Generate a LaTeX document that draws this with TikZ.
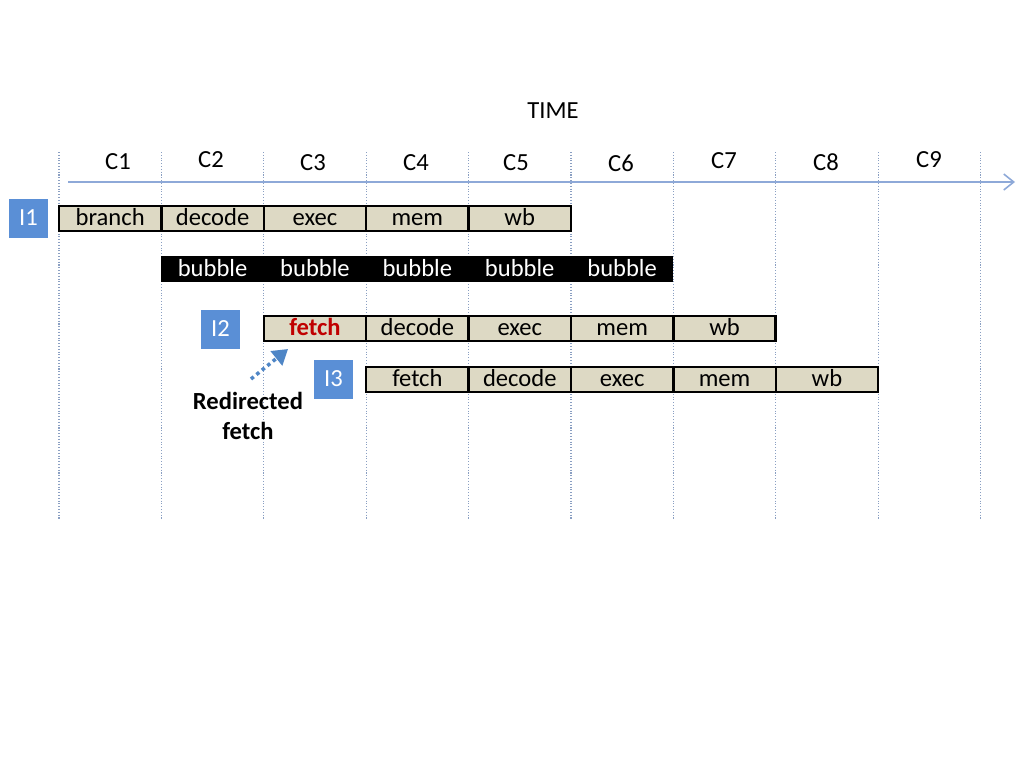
\documentclass[tikz,border=0pt]{standalone}
\usepackage{fontspec}
\setmainfont{Carlito}
\usetikzlibrary{positioning, arrows.meta}
\definecolor{stagefill}{HTML}{DDD9C4}
\definecolor{instrblue}{HTML}{5A8FD6}
\definecolor{axisblue}{HTML}{8EA9D8}
\definecolor{gridblue}{HTML}{8A9FC2}
\definecolor{fetchred}{HTML}{C00000}
\definecolor{redirblue}{HTML}{4F86C6}

\begin{document}
\begin{tikzpicture}
    [
        x=0.02cm, y=-0.02cm,
        node distance=2.048cm, on grid,
        stage_node/.style={rectangle, draw=black, line width=1.4pt, fill=stagefill, minimum width=2.048cm, minimum height=0.5cm, inner sep=0pt, text height=10.5pt, text depth=2.1pt, font=\fontsize{14}{16}\selectfont},
        bubble_node/.style={rectangle, fill=black, text=white, minimum width=2.048cm, minimum height=0.52cm, inner sep=0pt, text height=10.5pt, text depth=2.1pt, font=\fontsize{14}{16}\selectfont},
        instr_node/.style={rectangle, fill=instrblue, text=white, minimum size=0.78cm, inner sep=0pt, text height=10.5pt, text depth=2.1pt, font=\fontsize{14}{16}\selectfont},
        cycle_node/.style={font=\fontsize{14}{16}\selectfont},
        cycle_line/.style={densely dotted, line width=0.6pt, color=gridblue},
    ]
        \useasboundingbox (0,0) rectangle (1024,768);

        % cycle boundaries
        \draw[cycle_line] (59,152) -- (59,520);
        \draw[cycle_line] (161.4,152) -- (161.4,520);
        \draw[cycle_line] (263.8,152) -- (263.8,520);
        \draw[cycle_line] (366.2,152) -- (366.2,520);
        \draw[cycle_line] (468.6,152) -- (468.6,520);
        \draw[cycle_line] (571,152) -- (571,520);
        \draw[cycle_line] (673.4,152) -- (673.4,520);
        \draw[cycle_line] (775.8,152) -- (775.8,520);
        \draw[cycle_line] (878.2,152) -- (878.2,520);
        \draw[cycle_line] (980.6,152) -- (980.6,520);

        % time axis
        \node[cycle_node] (time) at (553,111) {TIME};
        \node[cycle_node] (c1) at (118,162) {C1};
        \node[cycle_node] (c2) at (211,160) {C2};
        \node[cycle_node] (c3) at (313,163) {C3};
        \node[cycle_node] (c4) at (416,163) {C4};
        \node[cycle_node] (c5) at (516,163) {C5};
        \node[cycle_node] (c6) at (621,163) {C6};
        \node[cycle_node] (c7) at (724,161) {C7};
        \node[cycle_node] (c8) at (826,162) {C8};
        \node[cycle_node] (c9) at (929,160) {C9};
        \coordinate (axis_start) at (68,182);
        \coordinate (axis_end) at (1015,182);
        \draw[-{Straight Barb[length=2mm, width=3.2mm]}, line width=0.9pt, color=axisblue] (axis_start) -- (axis_end);

        % I1
        \node[instr_node] (i1) at (28.5,218.5) {I1};
        \node[stage_node] (i1_branch) at (110.2,218.5) {branch};
        \node[stage_node] (i1_decode) [right = of i1_branch] {decode};
        \node[stage_node] (i1_exec) [right = of i1_decode] {exec};
        \node[stage_node] (i1_mem) [right = of i1_exec] {mem};
        \node[stage_node] (i1_wb) [right = of i1_mem] {wb};

        % bubbles
        \node[bubble_node] (b1) at (212.6,269) {bubble};
        \node[bubble_node] (b2) [right = of b1] {bubble};
        \node[bubble_node] (b3) [right = of b2] {bubble};
        \node[bubble_node] (b4) [right = of b3] {bubble};
        \node[bubble_node] (b5) [right = of b4] {bubble};

        % I2
        \node[instr_node] (i2) at (220.5,329) {I2};
        \node[stage_node, text=fetchred, font=\fontsize{14}{16}\selectfont\bfseries] (i2_fetch) at (315,328.5) {fetch};
        \node[stage_node] (i2_decode) [right = of i2_fetch] {decode};
        \node[stage_node] (i2_exec) [right = of i2_decode] {exec};
        \node[stage_node] (i2_mem) [right = of i2_exec] {mem};
        \node[stage_node] (i2_wb) [right = of i2_mem] {wb};

        % I3
        \node[instr_node] (i3) at (333.5,379.5) {I3};
        \node[stage_node] (i3_fetch) at (417.4,379.5) {fetch};
        \node[stage_node] (i3_decode) [right = of i3_fetch] {decode};
        \node[stage_node] (i3_exec) [right = of i3_decode] {exec};
        \node[stage_node] (i3_mem) [right = of i3_exec] {mem};
        \node[stage_node] (i3_wb) [right = of i3_mem] {wb};

        % redirect
        \node[align=center, font=\fontsize{14}{17}\selectfont\bfseries] (redir_label) at (248,416) {Redirected\\fetch};
        \coordinate (redir_tail) at (251,379);
        \coordinate (redir_head) at (288,349);
        \draw[-{Triangle[length=3mm, width=3.6mm]}, line width=2pt, dash pattern=on 2pt off 2pt, color=redirblue] (redir_tail) -- (redir_head);
    \end{tikzpicture}
\end{document}
